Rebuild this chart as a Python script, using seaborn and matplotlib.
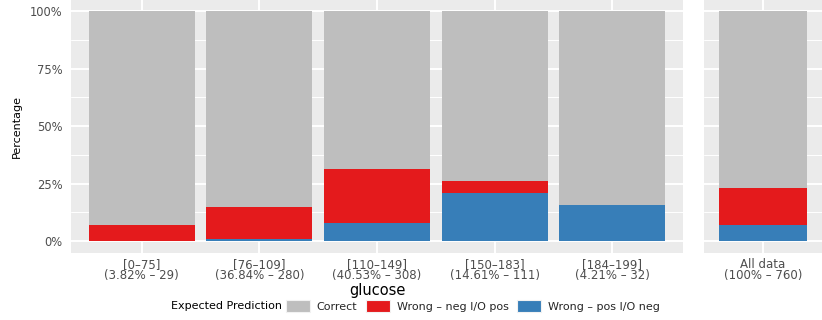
import numpy as np
import pandas as pd
import matplotlib
matplotlib.use("Agg")
import matplotlib.pyplot as plt
import matplotlib.patches as mpatches
from matplotlib.ticker import FixedLocator, PercentFormatter
import seaborn as sns

# counts per glucose bin
bins = ["[0\u201375]", "[76\u2013109]", "[110\u2013149]", "[150\u2013183]", "[184\u2013199]"]
totals = [29, 280, 308, 111, 32]
wrong_neg = [2, 40, 73, 6, 0]    # wrong - neg I/O pos
wrong_pos = [0, 2, 24, 23, 5]    # wrong - pos I/O neg

categories = ["Correct", "Wrong \u2013 neg I/O pos", "Wrong \u2013 pos I/O neg"]
colors = ["#BEBEBE", "#E41A1C", "#377EB8"]

sns.set_style("white")
plt.rcParams["font.family"] = ["DejaVu Sans"]


def make_frame(labels, tot, neg, pos):
    tot = np.array(tot, float)
    neg = np.array(neg, float)
    pos = np.array(pos, float)
    return pd.DataFrame({
        "label": labels,
        "blue": pos / tot * 100,
        "red": (pos + neg) / tot * 100,
        "grey": np.full(len(labels), 100.0),
    })


main = make_frame(
    [f"{b}\n({t / sum(totals) * 100:.2f}% \u2013 {t})" for b, t in zip(bins, totals)],
    totals, wrong_neg, wrong_pos)
alld = make_frame([f"All data\n(100% \u2013 {sum(totals)})"],
                  [sum(totals)], [sum(wrong_neg)], [sum(wrong_pos)])

W, H = 822, 320
fig = plt.figure(figsize=(W / 100, H / 100), dpi=100)
ax1 = fig.add_axes([71 / W, (H - 253) / H, 612 / W, 253 / H])
ax2 = fig.add_axes([704 / W, (H - 253) / H, 118 / W, 253 / H])

for ax, df in [(ax1, main), (ax2, alld)]:
    ax.set_facecolor("#EBEBEB")
    for col, c in zip(["grey", "red", "blue"], colors):
        sns.barplot(data=df, x="label", y=col, color=c, width=0.9,
                    linewidth=0, saturation=1, ax=ax, zorder=3)
    n = len(df)
    ax.set_xlim(-0.6, n - 0.4)
    ax.set_ylim(-5.2, 104.8)
    ax.yaxis.set_major_locator(FixedLocator([0, 25, 50, 75, 100]))
    ax.yaxis.set_minor_locator(FixedLocator([12.5, 37.5, 62.5, 87.5]))
    ax.yaxis.set_major_formatter(PercentFormatter(decimals=0))
    ax.grid(which="major", color="white", linewidth=1.4, zorder=0)
    ax.grid(which="minor", axis="y", color="white", linewidth=0.7, zorder=0)
    ax.set_axisbelow(True)
    for s in ax.spines.values():
        s.set_visible(False)
    ax.tick_params(axis="both", which="major", length=3, width=0.9,
                   color="#333333", labelcolor="#4D4D4D")
    ax.tick_params(axis="x", labelsize=8.5, pad=0.5)
    ax.tick_params(axis="y", labelsize=8.3, pad=3)
    ax.tick_params(axis="y", which="minor", length=0)
    for t in ax.get_xticklabels():
        t.set_linespacing(0.82)
    ax.set_xlabel("")
    ax.set_ylabel("")

ax2.tick_params(axis="y", which="both", left=False, labelleft=False)
ax1.set_xlabel("glucose", fontsize=10.5, labelpad=1, color="black")
ax1.set_ylabel("Percentage", fontsize=8, labelpad=6, color="black")

fig.text(171 / W, (H - 306) / H, "Expected Prediction", fontsize=8,
         ha="left", va="center", color="black")
handles = [mpatches.Patch(facecolor=c, edgecolor="#F2F2F2", linewidth=0.8) for c in colors]
fig.legend(handles, categories, loc="center left", bbox_to_anchor=(286 / W, (H - 306) / H),
           ncol=3, frameon=False, fontsize=8, handlelength=2.15, handleheight=1.35,
           handletextpad=0.6, columnspacing=0.8, borderaxespad=0, borderpad=0)

fig.savefig("out.png", dpi=100)
